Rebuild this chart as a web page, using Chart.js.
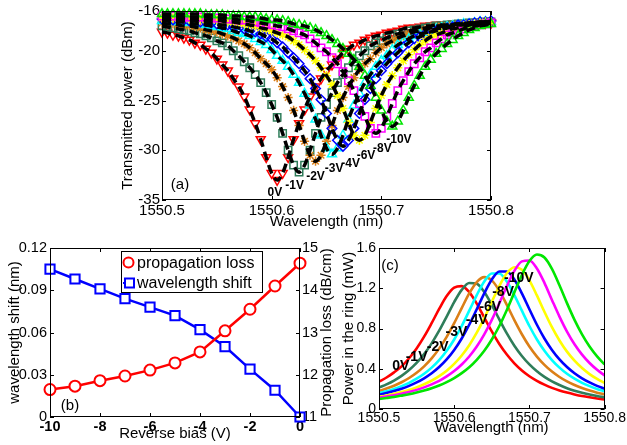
<!DOCTYPE html>
<html>
<head>
<meta charset="utf-8">
<script src="https://cdn.jsdelivr.net/npm/chart.js@4.4.1/dist/chart.umd.min.js"></script>
<style>
html,body{margin:0;padding:0;background:#fff;}
#wrap{position:relative;width:627px;height:445px;overflow:hidden;background:#fff;}
#wrap canvas{position:absolute;left:0;top:0;}
</style>
</head>
<body>
<div id="wrap">
<canvas id="chartA" width="627" height="445"></canvas>
<canvas id="chartB" width="627" height="445"></canvas>
<canvas id="chartC" width="627" height="445"></canvas>
</div>
<script>
// ================= DATA =================
const voltages = ['0V','-1V','-2V','-3V','-4V','-6V','-8V','-10V'];

// (a) transmitted power (dBm), sampled every 0.005 nm from 1550.500 to 1550.800 nm
const waveA = [];
for (let i = 0; i <= 60; i++) waveA.push(+(1550.5 + 0.005 * i).toFixed(3));
const tr0V = [-18.1,-18.2,-18.4,-18.5,-18.7,-18.9,-19.2,-19.4,-19.8,-20.2,-20.8,-21.4,-22.0,-22.8,-23.6,-24.6,-25.9,-27.3,-28.9,-30.7,-32.3,-33.0,-32.3,-30.7,-28.9,-27.3,-25.9,-24.6,-23.6,-22.8,-22.0,-21.4,-20.8,-20.2,-19.8,-19.4,-19.2,-18.9,-18.7,-18.5,-18.4,-18.2,-18.1,-18.0,-17.8,-17.7,-17.7,-17.6,-17.5,-17.5,-17.4,-17.4,-17.4,-17.3,-17.3,-17.3,-17.2,-17.2,-17.2,-17.2,-17.2];
const tr1V = [-17.5,-17.6,-17.7,-17.8,-17.9,-18.0,-18.2,-18.3,-18.5,-18.7,-19.0,-19.2,-19.5,-20.0,-20.5,-21.1,-21.7,-22.4,-23.2,-24.2,-25.4,-26.7,-28.3,-30.0,-31.5,-32.2,-31.5,-30.0,-28.3,-26.7,-25.4,-24.2,-23.2,-22.4,-21.7,-21.1,-20.5,-20.0,-19.5,-19.2,-19.0,-18.7,-18.5,-18.3,-18.2,-18.0,-17.9,-17.8,-17.7,-17.6,-17.5,-17.5,-17.4,-17.4,-17.3,-17.3,-17.2,-17.2,-17.2,-17.1,-17.1];
const tr2V = [-17.2,-17.3,-17.3,-17.4,-17.5,-17.5,-17.6,-17.7,-17.9,-18.0,-18.1,-18.3,-18.5,-18.7,-19.0,-19.3,-19.7,-20.2,-20.8,-21.3,-21.9,-22.7,-23.6,-24.7,-26.0,-27.5,-29.1,-30.5,-31.1,-30.5,-29.1,-27.5,-26.0,-24.7,-23.6,-22.7,-21.9,-21.3,-20.8,-20.2,-19.7,-19.3,-19.0,-18.7,-18.5,-18.3,-18.1,-18.0,-17.9,-17.7,-17.6,-17.5,-17.5,-17.4,-17.3,-17.3,-17.2,-17.2,-17.1,-17.1,-17.1];
const tr3V = [-17.0,-17.0,-17.1,-17.1,-17.1,-17.2,-17.3,-17.3,-17.4,-17.5,-17.6,-17.7,-17.8,-18.0,-18.2,-18.3,-18.5,-18.8,-19.1,-19.4,-19.9,-20.5,-21.0,-21.6,-22.4,-23.2,-24.3,-25.5,-26.9,-28.5,-29.8,-30.4,-29.8,-28.5,-26.9,-25.5,-24.3,-23.2,-22.4,-21.6,-21.0,-20.5,-19.9,-19.4,-19.1,-18.8,-18.5,-18.3,-18.2,-18.0,-17.8,-17.7,-17.6,-17.5,-17.4,-17.3,-17.3,-17.2,-17.1,-17.1,-17.1];
const tr4V = [-16.8,-16.8,-16.9,-16.9,-16.9,-17.0,-17.0,-17.1,-17.1,-17.2,-17.3,-17.4,-17.4,-17.6,-17.7,-17.8,-18.0,-18.1,-18.3,-18.6,-18.8,-19.2,-19.6,-20.2,-20.7,-21.3,-22.0,-22.8,-23.8,-24.9,-26.3,-27.8,-29.0,-29.6,-29.0,-27.8,-26.3,-24.9,-23.8,-22.8,-22.0,-21.3,-20.7,-20.2,-19.6,-19.2,-18.8,-18.6,-18.3,-18.1,-18.0,-17.8,-17.7,-17.6,-17.4,-17.4,-17.3,-17.2,-17.1,-17.1,-17.0];
const tr6V = [-16.7,-16.7,-16.7,-16.7,-16.7,-16.8,-16.8,-16.8,-16.9,-16.9,-16.9,-17.0,-17.1,-17.1,-17.2,-17.3,-17.4,-17.5,-17.7,-17.8,-18.0,-18.2,-18.4,-18.6,-19.0,-19.4,-19.9,-20.4,-21.0,-21.7,-22.5,-23.4,-24.5,-25.8,-27.2,-28.5,-29.0,-28.5,-27.2,-25.8,-24.5,-23.4,-22.5,-21.7,-21.0,-20.4,-19.9,-19.4,-19.0,-18.6,-18.4,-18.2,-18.0,-17.8,-17.7,-17.5,-17.4,-17.3,-17.2,-17.1,-17.1];
const tr8V = [-16.5,-16.5,-16.5,-16.5,-16.6,-16.6,-16.6,-16.6,-16.6,-16.7,-16.7,-16.7,-16.8,-16.8,-16.9,-16.9,-17.0,-17.1,-17.2,-17.3,-17.4,-17.5,-17.6,-17.8,-18.0,-18.2,-18.4,-18.8,-19.2,-19.7,-20.1,-20.7,-21.3,-22.1,-23.0,-24.0,-25.3,-26.6,-27.8,-28.3,-27.8,-26.6,-25.3,-24.0,-23.0,-22.1,-21.3,-20.7,-20.1,-19.7,-19.2,-18.8,-18.4,-18.2,-18.0,-17.8,-17.6,-17.5,-17.4,-17.3,-17.2];
const tr10V = [-16.3,-16.3,-16.3,-16.3,-16.3,-16.3,-16.3,-16.3,-16.4,-16.4,-16.4,-16.4,-16.5,-16.5,-16.5,-16.6,-16.6,-16.6,-16.7,-16.8,-16.9,-16.9,-17.0,-17.1,-17.3,-17.4,-17.5,-17.7,-17.9,-18.2,-18.5,-18.9,-19.3,-19.8,-20.3,-20.9,-21.6,-22.5,-23.5,-24.7,-26.0,-27.1,-27.6,-27.1,-26.0,-24.7,-23.5,-22.5,-21.6,-20.9,-20.3,-19.8,-19.3,-18.9,-18.5,-18.2,-17.9,-17.7,-17.5,-17.4,-17.3];

// (b) vs reverse bias
const biasV = [-10,-9,-8,-7,-6,-5,-4,-3,-2,-1,0];
const shiftNm = [0.105,0.098,0.091,0.084,0.078,0.072,0.062,0.050,0.034,0.019,0.0];
const lossDbCm = [11.65,11.73,11.86,11.97,12.11,12.28,12.54,13.04,13.55,14.10,14.64];

// (c) power in the ring (mW), sampled every 0.01 nm from 1550.50 to 1550.80 nm
const waveC = [];
for (let j = 0; j <= 30; j++) waveC.push(+(1550.5 + 0.01 * j).toFixed(2));
const pw0V = [0.272,0.313,0.364,0.424,0.504,0.602,0.719,0.853,0.994,1.122,1.206,1.221,1.162,1.048,0.909,0.771,0.646,0.541,0.454,0.383,0.326,0.280,0.242,0.210,0.184,0.163,0.145,0.129,0.116,0.105,0.095];
const pw1V = [0.213,0.245,0.283,0.329,0.387,0.458,0.545,0.652,0.778,0.919,1.063,1.184,1.252,1.244,1.163,1.035,0.890,0.751,0.629,0.527,0.443,0.375,0.319,0.274,0.238,0.207,0.182,0.161,0.144,0.129,0.116];
const pw2V = [0.179,0.203,0.231,0.266,0.308,0.360,0.424,0.503,0.600,0.717,0.853,1.003,1.149,1.262,1.311,1.278,1.176,1.034,0.883,0.743,0.621,0.521,0.438,0.372,0.318,0.274,0.238,0.208,0.183,0.162,0.145];
const pw3V = [0.157,0.176,0.199,0.227,0.260,0.301,0.350,0.411,0.486,0.579,0.691,0.825,0.977,1.132,1.267,1.347,1.347,1.267,1.132,0.977,0.825,0.691,0.579,0.486,0.411,0.350,0.301,0.260,0.227,0.199,0.176];
const pw4V = [0.142,0.159,0.179,0.202,0.230,0.264,0.305,0.355,0.417,0.493,0.587,0.701,0.837,0.991,1.149,1.286,1.367,1.367,1.286,1.149,0.991,0.837,0.701,0.587,0.493,0.417,0.355,0.305,0.264,0.230,0.202];
const pw6V = [0.122,0.135,0.151,0.169,0.190,0.215,0.246,0.282,0.327,0.381,0.449,0.532,0.634,0.758,0.903,1.064,1.222,1.349,1.409,1.383,1.279,1.129,0.966,0.813,0.681,0.570,0.480,0.407,0.347,0.299,0.259];
const pw8V = [0.112,0.123,0.136,0.152,0.169,0.190,0.215,0.245,0.280,0.324,0.377,0.442,0.522,0.621,0.742,0.886,1.050,1.221,1.372,1.467,1.476,1.397,1.254,1.084,0.918,0.769,0.643,0.540,0.457,0.389,0.334];
const pw10V = [0.100,0.110,0.120,0.133,0.147,0.164,0.184,0.207,0.234,0.267,0.307,0.356,0.415,0.489,0.579,0.691,0.825,0.984,1.159,1.331,1.470,1.535,1.506,1.393,1.230,1.052,0.886,0.742,0.621,0.523,0.443];

// tick labels
const ticksWave = [1550.5,1550.6,1550.7,1550.8];
const ticksTrans = [-35,-30,-25,-20,-16];
const ticksBias = [-10,-8,-6,-4,-2,0];
const ticksShift = [0,0.03,0.06,0.09,0.12];
const ticksLoss = [11,12,13,14,15];
const ticksPower = [0,0.4,0.8,1.2,1.6];

// text label anchor points (data coordinates)
const labelAtA = [[1550.603,-34.3],[1550.621,-33.6],[1550.640,-32.7],[1550.657,-31.9],[1550.672,-31.3],[1550.686,-30.5],[1550.701,-29.8],[1550.716,-28.9]];
const labelAtC = [[1550.529,0.427],[1550.550,0.517],[1550.578,0.616],[1550.603,0.765],[1550.630,0.884],[1550.648,1.014],[1550.665,1.163],[1550.686,1.302]];

// ================= STYLE =================
const seriesColors = ['#ff0000','#2f7d5a','#db7f17','#00ffff','#0000ff','#ffff00','#ff00ff','#00e600'];
const markerShapes = [['triangle',180,5.2],['rect',0,5.2],['star',0,4.6],['triangle',0,5.2],['rectRot',0,4.8],['star',0,4.6],['rect',0,5.2],['triangle',0,5.2]];
const FONT = '"Liberation Sans", Arial, Helvetica, sans-serif';
Chart.defaults.font.family = FONT;
Chart.defaults.color = '#000';

// frame + inward ticks plugin
const framePlugin = {
  id: 'frame',
  afterDraw(chart) {
    const {ctx, chartArea: a, scales} = chart;
    const L = 4;
    const list = Object.values(scales);
    const hasRight = list.some(s => s.position === 'right');
    ctx.save();
    ctx.strokeStyle = '#000';
    ctx.lineWidth = 1;
    ctx.beginPath();
    for (const s of list) {
      for (const t of s.ticks) {
        const p = Math.round(s.getPixelForValue(t.value)) + 0.5;
        if (s.isHorizontal()) {
          ctx.moveTo(p, a.bottom); ctx.lineTo(p, a.bottom - L);
          ctx.moveTo(p, a.top); ctx.lineTo(p, a.top + L);
        } else if (s.position === 'left') {
          ctx.moveTo(a.left, p); ctx.lineTo(a.left + L, p);
          if (!hasRight) { ctx.moveTo(a.right, p); ctx.lineTo(a.right - L, p); }
        } else {
          ctx.moveTo(a.right, p); ctx.lineTo(a.right - L, p);
        }
      }
    }
    ctx.stroke();
    ctx.strokeRect(Math.round(a.left) + 0.5, Math.round(a.top) + 0.5, Math.round(a.right - a.left) - 1, Math.round(a.bottom - a.top) - 1);
    ctx.restore();
  }
};

function notesPlugin(items, yId) {
  return {
    id: 'notes',
    afterDraw(chart) {
      const ctx = chart.ctx, xs = chart.scales.x, ys = chart.scales[yId];
      ctx.save();
      ctx.fillStyle = '#000';
      ctx.textAlign = 'center';
      ctx.textBaseline = 'middle';
      for (const n of items) {
        ctx.font = n.font;
        ctx.fillText(n.text, xs.getPixelForValue(n.x), ys.getPixelForValue(n.y));
      }
      ctx.restore();
    }
  };
}

function fixedTicks(arr) { return s => { s.ticks = arr.map(v => ({value: v})); }; }

// ================= CHART (a) =================
const seriesA = [tr0V, tr1V, tr2V, tr3V, tr4V, tr6V, tr8V, tr10V];
const dsA = [];
seriesA.forEach((arr, k) => {
  dsA.push({
    label: voltages[k],
    data: arr.map((v, i) => ({x: waveA[i], y: v})),
    showLine: false,
    pointStyle: markerShapes[k][0],
    rotation: markerShapes[k][1],
    pointRadius: markerShapes[k][2],
    pointBorderWidth: 1.5,
    pointBorderColor: seriesColors[k],
    pointBackgroundColor: 'rgba(0,0,0,0)',
    order: 20 - k,
    clip: false
  });
});
seriesA.forEach((arr, k) => {
  dsA.push({
    label: voltages[k] + ' fit',
    data: arr.map((v, i) => ({x: waveA[i], y: v})),
    borderColor: '#000',
    borderWidth: 3.5,
    borderDash: [9, 5],
    pointRadius: 0,
    cubicInterpolationMode: 'monotone',
    fill: false,
    order: 0,
    clip: false
  });
});
const notesA = voltages.map((t, k) => ({text: t, x: labelAtA[k][0], y: labelAtA[k][1], font: 'bold 12px ' + FONT}));
notesA.push({text: '(a)', x: 1550.5164, y: -33.49, font: '15px ' + FONT});

new Chart(document.getElementById('chartA'), {
  type: 'line',
  data: {datasets: dsA},
  options: {
    responsive: false, animation: false, devicePixelRatio: 1, events: [],
    layout: {padding: {left: 112, right: 136, top: 11, bottom: 213}},
    plugins: {legend: {display: false}, tooltip: {enabled: false}},
    scales: {
      x: {
        type: 'linear', min: 1550.5, max: 1550.8,
        afterBuildTicks: fixedTicks(ticksWave),
        afterFit: s => { s.height = 32; },
        grid: {display: false, drawTicks: false}, border: {display: false},
        ticks: {padding: 2, maxRotation: 0, autoSkip: false, font: {size: 15}, color: '#000', callback: v => v.toFixed(1)},
        title: {display: true, text: 'Wavelength (nm)', font: {size: 15}, color: '#000', padding: {top: 0, bottom: 1}}
      },
      y: {
        type: 'linear', min: -35, max: -16,
        afterBuildTicks: fixedTicks(ticksTrans),
        afterFit: s => { s.width = 50; },
        grid: {display: false, drawTicks: false}, border: {display: false},
        ticks: {padding: 2, font: {size: 15}, color: '#000', callback: v => String(v)},
        title: {display: true, text: 'Transmitted power (dBm)', font: {size: 15}, color: '#000', padding: {top: 7, bottom: 0}}
      }
    }
  },
  plugins: [framePlugin, notesPlugin(notesA, 'y')]
});

// ================= CHART (b) =================
const legendB = {
  id: 'legendB',
  afterDraw(chart) {
    const ctx = chart.ctx, a = chart.chartArea;
    const bx = a.left + 71, by = a.top + 3, bw = 141, bh = 41;
    ctx.save();
    ctx.fillStyle = '#fff';
    ctx.fillRect(bx, by, bw, bh);
    ctx.strokeStyle = '#000'; ctx.lineWidth = 1;
    ctx.strokeRect(bx + 0.5, by + 0.5, bw, bh);
    const ds = chart.data.datasets;
    const rows = [{d: ds[0], y: by + 11.5}, {d: ds[1], y: by + 32}];
    ctx.font = '16px ' + FONT;
    ctx.textBaseline = 'middle';
    ctx.textAlign = 'left';
    for (const r of rows) {
      ctx.strokeStyle = r.d.borderColor; ctx.lineWidth = 2;
      ctx.beginPath(); ctx.moveTo(bx + 2, r.y); ctx.lineTo(bx + 13, r.y); ctx.stroke();
      ctx.fillStyle = '#fff';
      ctx.beginPath();
      if (r.d.pointStyle === 'circle') ctx.arc(bx + 7.5, r.y, 5, 0, Math.PI * 2);
      else ctx.rect(bx + 4, r.y - 4.5, 9, 9);
      ctx.fill(); ctx.stroke();
      ctx.fillStyle = '#000';
      ctx.fillText(r.d.label, bx + 16, r.y + 1);
    }
    // right-hand axis title, rotated like the left one
    ctx.save();
    ctx.translate(327, (a.top + a.bottom) / 2);
    ctx.rotate(-Math.PI / 2);
    ctx.textAlign = 'center';
    ctx.font = '15px ' + FONT;
    ctx.fillText('Propagation loss (dB/cm)', 0, 0);
    ctx.restore();
    ctx.restore();
  }
};

new Chart(document.getElementById('chartB'), {
  type: 'line',
  data: {
    datasets: [
      {label: 'propagation loss', data: biasV.map((v, i) => ({x: v, y: lossDbCm[i]})), yAxisID: 'y2',
        borderColor: '#ff0000', borderWidth: 2.5, pointStyle: 'circle', pointRadius: 5.5, pointBorderWidth: 2,
        pointBorderColor: '#ff0000', pointBackgroundColor: '#fff', tension: 0, order: 0, clip: false},
      {label: 'wavelength shift', data: biasV.map((v, i) => ({x: v, y: shiftNm[i]})), yAxisID: 'y',
        borderColor: '#0000ff', borderWidth: 2.5, pointStyle: 'rect', pointRadius: 6.5, pointBorderWidth: 2,
        pointBorderColor: '#0000ff', pointBackgroundColor: '#fff', tension: 0, order: 1, clip: false}
    ]
  },
  options: {
    responsive: false, animation: false, devicePixelRatio: 1, events: [],
    layout: {padding: {left: 4, right: 287, top: 248, bottom: 0}},
    plugins: {legend: {display: false}, tooltip: {enabled: false}},
    scales: {
      x: {
        type: 'linear', min: -10, max: 0,
        afterBuildTicks: fixedTicks(ticksBias),
        afterFit: s => { s.height = 28; },
        grid: {display: false, drawTicks: false}, border: {display: false},
        ticks: {padding: 1, maxRotation: 0, autoSkip: false, font: {size: 14.5, weight: 'bold'}, color: '#000', callback: v => String(v)},
        title: {display: true, text: 'Reverse bias (V)', font: {size: 15}, color: '#000', padding: {top: 0, bottom: 2}}
      },
      y: {
        type: 'linear', position: 'left', min: 0, max: 0.12,
        afterBuildTicks: fixedTicks(ticksShift),
        afterFit: s => { s.width = 46; },
        grid: {display: false, drawTicks: false}, border: {display: false},
        ticks: {padding: 3, font: {size: 14.5}, color: '#000', callback: v => v === 0 ? '0' : v.toFixed(2)},
        title: {display: true, text: 'wavelength shift (nm)', font: {size: 15}, color: '#000', padding: {top: 2, bottom: 0}}
      },
      y2: {
        type: 'linear', position: 'right', min: 11, max: 15,
        afterBuildTicks: fixedTicks(ticksLoss),
        afterFit: s => { s.width = 40; },
        grid: {display: false, drawTicks: false}, border: {display: false},
        ticks: {padding: 2, font: {size: 14.5}, color: '#000', callback: v => String(v)},
        title: {display: false}
      }
    }
  },
  plugins: [framePlugin, legendB, notesPlugin([{text: '(b)', x: -9.2, y: 0.0078, font: '15px ' + FONT}], 'y')]
});

// ================= CHART (c) =================
const seriesC = [pw0V, pw1V, pw2V, pw3V, pw4V, pw6V, pw8V, pw10V];
const dsC = seriesC.map((arr, k) => ({
  label: voltages[k],
  data: arr.map((v, j) => ({x: waveC[j], y: v})),
  borderColor: seriesColors[k],
  borderWidth: 2.6,
  pointRadius: 0,
  cubicInterpolationMode: 'monotone',
  fill: false,
  order: 20 - k
}));
const notesC = voltages.map((t, k) => ({text: t, x: labelAtC[k][0], y: labelAtC[k][1], font: 'bold 14px ' + FONT}));
notesC.push({text: '(c)', x: 1550.5145, y: 1.421, font: '15px ' + FONT});

new Chart(document.getElementById('chartC'), {
  type: 'line',
  data: {datasets: dsC},
  options: {
    responsive: false, animation: false, devicePixelRatio: 1, events: [],
    layout: {padding: {left: 339, right: 21, top: 248, bottom: 6}},
    plugins: {legend: {display: false}, tooltip: {enabled: false}},
    scales: {
      x: {
        type: 'linear', min: 1550.5, max: 1550.8,
        afterBuildTicks: fixedTicks(ticksWave),
        afterFit: s => { s.height = 30; },
        grid: {display: false, drawTicks: false}, border: {display: false},
        ticks: {padding: 1, maxRotation: 0, autoSkip: false, font: {size: 14}, color: '#000', callback: v => v.toFixed(1)},
        title: {display: true, text: 'Wavelength (nm)', font: {size: 15}, color: '#000', padding: {top: 0, bottom: 2}}
      },
      y: {
        type: 'linear', min: 0, max: 1.6,
        afterBuildTicks: fixedTicks(ticksPower),
        afterFit: s => { s.width = 40; },
        grid: {display: false, drawTicks: false}, border: {display: false},
        ticks: {padding: 3, font: {size: 14}, color: '#000', callback: v => v === 0 ? '0' : v.toFixed(1)},
        title: {display: true, text: 'Power in the ring (mW)', font: {size: 15}, color: '#000', padding: {top: 1, bottom: 0}}
      }
    }
  },
  plugins: [framePlugin, notesPlugin(notesC, 'y')]
});
</script>
</body>
</html>
